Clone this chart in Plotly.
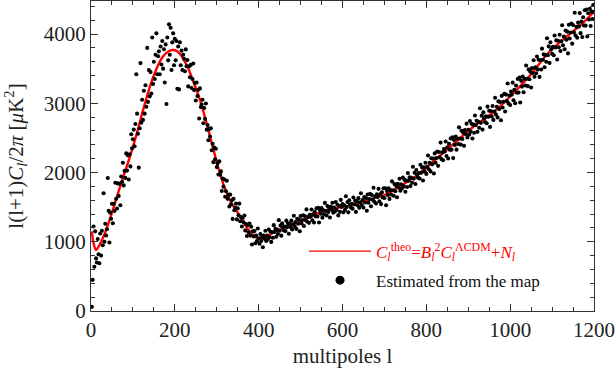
import plotly.graph_objects as go

# Theoretical spectrum (knots)
theory_l = [2, 6, 12, 20, 36, 50, 67, 80, 93, 110, 125, 140, 155, 170, 185, 195, 205, 215, 230, 245,
            260, 275, 290, 305, 320, 335, 350, 365, 380, 395, 410, 425, 440, 460, 490, 520, 545, 580,
            620, 660, 705, 745, 783, 830, 870, 910, 960, 1010, 1050, 1093, 1140, 1170, 1200]
theory_cl = [1150, 980, 880, 950, 1170, 1420, 1750, 1990, 2230, 2580, 2920, 3230, 3480, 3660, 3750, 3770,
             3755, 3690, 3530, 3300, 3050, 2730, 2380, 2040, 1760, 1560, 1420, 1270, 1140, 1060, 1040,
             1090, 1150, 1200, 1270, 1350, 1420, 1480, 1530, 1600, 1690, 1830, 1980, 2230, 2440, 2650,
             2870, 3160, 3420, 3740, 3990, 4140, 4320]

# Spectrum estimated from the map (every second multipole, l = 2, 4, ..., 1200)
map_l = list(range(2, 1201, 2))
map_cl = [
    60, 450, 1220, 640, 1150, 760, 700, 1040, 820, 690,
    1120, 800, 1160, 950, 1700, 1000, 1260, 1090, 1180, 1920,
    1446, 990, 1420, 1332, 1548, 1268, 1548, 1444, 1852, 1620,
    1480, 1843, 1662, 1838, 1528, 1942, 1863, 2141, 1814, 2024,
    1922, 2276, 2028, 2248, 1900, 2264, 2088, 2552, 2350, 2480,
    2620, 2380, 2700, 3420, 2850, 2560, 2070, 2640, 3580, 2720,
    3050, 2760, 3180, 2850, 3260, 2950, 3800, 3020, 3480, 3100,
    3450, 3140, 3950, 3280, 3600, 3350, 3700, 4010, 3420, 3680,
    3750, 3420, 3820, 3560, 3900, 3500, 3780, 3300, 3850, 2990,
    3950, 3620, 4140, 3700, 4090, 3480, 3880, 4010, 3550, 3930,
    3620, 3900, 3210, 3820, 3200, 3880, 3550, 3760, 3480, 3700,
    3642, 3462, 3778, 3534, 3626, 3244, 3534, 3376, 3554, 3220,
    3350, 3575, 3190, 3295, 3040, 3300, 3105, 3195, 2780, 3215,
    2945, 2983, 3050, 2711, 2931, 2774, 2997, 2619, 2686, 2467,
    2630, 2520, 2638, 2322, 2416, 2150, 2362, 2192, 2344, 2078,
    2132, 1972, 2163, 1969, 2016, 1734, 1914, 1796, 1899, 1650,
    1730, 1880, 1620, 1680, 1510, 1680, 1540, 1600, 1330, 1620,
    1455, 1489, 1550, 1323, 1483, 1382, 1551, 1297, 1358, 1221,
    1343, 1280, 1379, 1164, 1256, 1083, 1241, 1136, 1262, 1089,
    1218, 960, 1150, 1076, 1154, 979, 1089, 1012, 1191, 1050,
    972, 1112, 1012, 1070, 920, 1090, 1043, 1158, 1010, 1090,
    1035, 1178, 1065, 1145, 998, 1141, 1058, 1240, 1142, 1188,
    1072, 1175, 1112, 1312, 1160, 1233, 1088, 1265, 1202, 1162,
    1219, 1154, 1305, 1212, 1265, 1116, 1261, 1209, 1305, 1177,
    1252, 1375, 1219, 1286, 1186, 1331, 1259, 1321, 1151, 1373,
    1266, 1314, 1382, 1227, 1372, 1314, 1467, 1290, 1359, 1273,
    1391, 1361, 1465, 1309, 1399, 1279, 1431, 1367, 1484, 1364,
    1489, 1278, 1457, 1404, 1485, 1348, 1456, 1397, 1561, 1446,
    1379, 1516, 1428, 1487, 1351, 1508, 1463, 1564, 1421, 1494,
    1438, 1575, 1458, 1535, 1381, 1517, 1431, 1605, 1503, 1543,
    1425, 1525, 1460, 1658, 1503, 1573, 1425, 1600, 1536, 1493,
    1549, 1477, 1639, 1537, 1593, 1431, 1585, 1528, 1630, 1490,
    1569, 1700, 1531, 1602, 1493, 1646, 1568, 1631, 1447, 1683,
    1564, 1616, 1692, 1512, 1676, 1608, 1780, 1576, 1652, 1552,
    1684, 1648, 1764, 1584, 1684, 1544, 1716, 1640, 1772, 1632,
    1772, 1528, 1734, 1676, 1772, 1619, 1746, 1681, 1872, 1743,
    1665, 1834, 1730, 1805, 1642, 1836, 1784, 1910, 1738, 1830,
    1769, 1929, 1800, 1893, 1723, 1884, 1790, 1992, 1881, 1932,
    1804, 1922, 1853, 2083, 1912, 1997, 1834, 2037, 1969, 1926,
    1993, 1913, 2113, 1998, 2071, 1884, 2074, 2013, 2141, 1980,
    2081, 2245, 2048, 2140, 2016, 2206, 2118, 2201, 1986, 2276,
    2140, 2208, 2304, 2096, 2297, 2221, 2432, 2194, 2291, 2177,
    2340, 2303, 2447, 2239, 2364, 2203, 2413, 2328, 2491, 2330,
    2508, 2208, 2469, 2399, 2520, 2330, 2491, 2411, 2652, 2492,
    2403, 2603, 2484, 2574, 2385, 2615, 2556, 2706, 2507, 2617,
    2545, 2744, 2587, 2703, 2492, 2691, 2574, 2823, 2685, 2747,
    2587, 2733, 2647, 2929, 2717, 2821, 2620, 2869, 2783, 2730,
    2813, 2712, 2951, 2806, 2892, 2659, 2888, 2808, 2960, 2760,
    2882, 3080, 2839, 2949, 2796, 3028, 2918, 3018, 2754, 3107,
    2940, 3021, 3136, 2882, 3125, 3033, 3286, 2998, 3113, 2975,
    3171, 3125, 3298, 3044, 3194, 3000, 3255, 3153, 3350, 3156,
    3370, 3011, 3324, 3241, 3386, 3159, 3352, 3257, 3546, 3355,
    3248, 3489, 3346, 3455, 3228, 3507, 3438, 3621, 3384, 3518,
    3434, 3674, 3489, 3629, 3381, 3622, 3487, 3789, 3628, 3706,
    3520, 3698, 3600, 3940, 3693, 3821, 3583, 3881, 3779, 3714,
    3814, 3694, 3978, 3807, 3908, 3633, 3904, 3810, 3990, 3754,
    3894, 4126, 3838, 3965, 3781, 4052, 3919, 4034, 3720, 4133,
    3935, 4023, 4150, 3861, 4131, 4024, 4307, 3979, 4106, 3947,
    4165, 4110, 4302, 4013, 4179, 3957, 4242, 4124, 4344, 4122,
    4355, 3964, 4301, 4209, 4364, 4116, 4323, 4218, 4420, 4320,
]

x_ticks = [0, 200, 400, 600, 800, 1000, 1200]
y_ticks = [0, 1000, 2000, 3000, 4000]

FONT = "Liberation Serif"
theo_label = ('<span style="color:#ff0000"><i>C</i><sub><i>l</i></sub><sup>theo</sup>=<i>B</i><sub><i>l</i></sub>'
              '<sup>2</sup><i>C</i><sub><i>l</i></sub><sup>ΛCDM</sup>+<i>N</i><sub><i>l</i></sub></span>')

fig = go.Figure()
# red theoretical curve
fig.add_trace(go.Scatter(
    x=theory_l, y=theory_cl, mode="lines", showlegend=False,
    line=dict(color="#ff0000", width=2.4, shape="spline", smoothing=0.8),
))
# estimated points
fig.add_trace(go.Scatter(
    x=map_l, y=map_cl, mode="markers", showlegend=False,
    marker=dict(color="black", size=4.1, line=dict(width=0)),
))
# legend entries (no data; thin line and large dot as in the reference legend)
fig.add_trace(go.Scatter(
    x=[None], y=[None], mode="lines", name=theo_label, legendgroup="a",
    line=dict(color="#ff0000", width=1.2),
))
fig.add_trace(go.Scatter(
    x=[None], y=[None], mode="markers", name="Estimated from the map", legendgroup="b",
    marker=dict(color="black", size=9, line=dict(width=0)),
))

axis_common = dict(
    showline=True, linecolor="#333333", linewidth=1, mirror="ticks",
    ticks="inside", ticklen=7, tickwidth=1, tickcolor="#333333",
    showgrid=False, zeroline=False,
    tickfont=dict(family=FONT, size=21, color="#222222"),
)

fig.update_xaxes(
    range=[0, 1200], tickvals=x_ticks, ticktext=[str(v) for v in x_ticks],
    minor=dict(dtick=50, ticks="inside", ticklen=4, tickcolor="#333333", showgrid=False),
    title=dict(text="multipoles l", font=dict(family=FONT, size=21, color="#222222"), standoff=7),
    **axis_common,
)
fig.update_yaxes(
    range=[0, 4477], tickvals=y_ticks, ticktext=[str(v) for v in y_ticks],
    minor=dict(dtick=200, ticks="inside", ticklen=4, tickcolor="#333333", showgrid=False),
    title=dict(text="l(l+1)<i>C</i><sub><i>l</i></sub>/2<i>π</i> [<i>μ</i>K<sup>2</sup>]",
               font=dict(family=FONT, size=21, color="#222222"), standoff=14),
    **axis_common,
)

fig.update_layout(
    width=616, height=381,
    margin=dict(l=91, r=22, t=1, b=70),
    paper_bgcolor="white", plot_bgcolor="white",
    showlegend=True,
    legend=dict(
        x=0.4235, y=0.25, xanchor="left", yanchor="top",
        bgcolor="rgba(0,0,0,0)", borderwidth=0,
        font=dict(family=FONT, size=17, color="#111111"),
        itemsizing="trace", itemwidth=62, tracegroupgap=4,
        traceorder="grouped",
    ),
)

fig.write_html("out.html")
